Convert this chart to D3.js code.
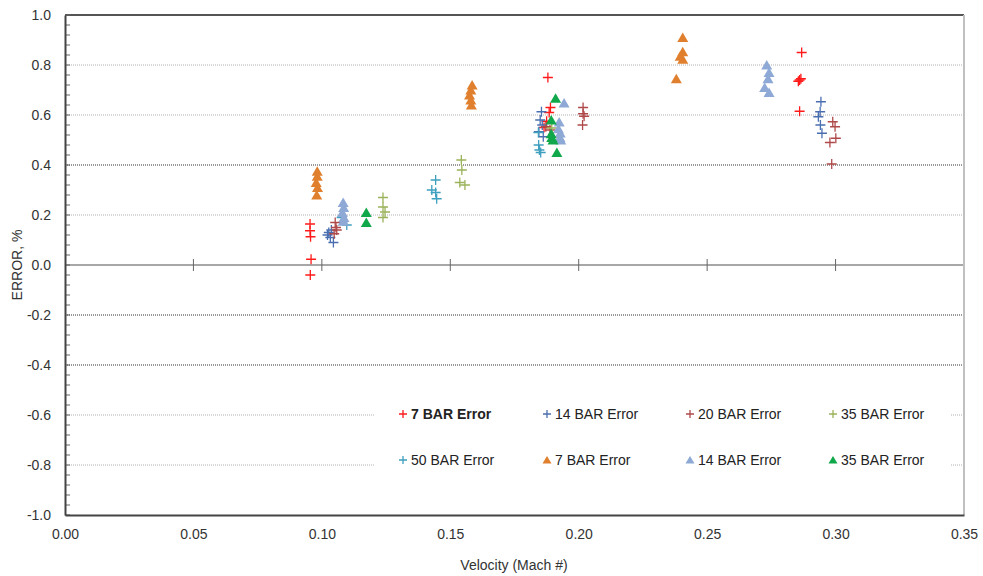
<!DOCTYPE html>
<html>
<head>
<meta charset="utf-8">
<script src="https://cdn.jsdelivr.net/npm/d3@7"></script>
<style>
body { margin: 0; background: #fff; }
text { font-family: "Liberation Sans", Arial, sans-serif; }
</style>
</head>
<body>
<svg width="983" height="576"></svg>
<script>
// series: [mach, error %]
var bar7 = [[0.0954,0.164],[0.0954,0.137],[0.0956,0.113],[0.0958,0.023],[0.0955,-0.04],
            [0.188,0.75],[0.189,0.63],[0.1885,0.61],[0.1875,0.575],[0.1865,0.55],
            [0.2868,0.85],[0.2855,0.735],[0.2865,0.745],[0.286,0.74],[0.286,0.615]];
var bar14 = [[0.1027,0.13],[0.1033,0.11],[0.1045,0.09],[0.1022,0.12],[0.1037,0.14],
             [0.1855,0.613],[0.185,0.58],[0.1858,0.56],[0.1845,0.533],[0.1862,0.513],
             [0.2943,0.653],[0.294,0.613],[0.2933,0.593],[0.2941,0.56],[0.2947,0.527]];
var bar20 = [[0.1052,0.17],[0.1055,0.15],[0.1048,0.125],[0.1058,0.14],
             [0.1872,0.553],[0.1888,0.54],
             [0.2017,0.63],[0.2017,0.605],[0.2021,0.595],[0.2015,0.56],
             [0.2989,0.573],[0.2998,0.553],[0.3001,0.507],[0.2978,0.49],[0.2985,0.404]];
var bar35 = [[0.1238,0.27],[0.1238,0.232],[0.1246,0.212],[0.1238,0.19],
             [0.1543,0.42],[0.1545,0.38],[0.1537,0.33],[0.1557,0.32],
             [0.1895,0.548],[0.19,0.513]];
var bar50 = [[0.1097,0.16],[0.1077,0.19],
             [0.1443,0.34],[0.1428,0.30],[0.1443,0.29],[0.1447,0.265],
             [0.1843,0.53],[0.1844,0.48],[0.1847,0.46],[0.1852,0.45]];
var tri7 = [[0.0982,0.375],[0.0982,0.355],[0.0978,0.33],[0.0983,0.31],[0.098,0.28],
            [0.1585,0.72],[0.158,0.70],[0.1575,0.68],[0.158,0.66],[0.1582,0.64],
            [0.2405,0.91],[0.2405,0.853],[0.2395,0.835],[0.2405,0.823],[0.238,0.745]];
var tri14 = [[0.1083,0.25],[0.1085,0.23],[0.108,0.21],[0.1086,0.19],[0.1083,0.175],
             [0.1943,0.648],[0.1924,0.572],[0.1921,0.545],[0.1928,0.528],[0.1927,0.51],[0.193,0.50],
             [0.2732,0.80],[0.2741,0.77],[0.2737,0.745],[0.2724,0.71],[0.2741,0.69]];
var tri35 = [[0.1173,0.21],[0.1173,0.17],
             [0.191,0.667],[0.1893,0.58],[0.1893,0.525],[0.1895,0.51],[0.19,0.50],[0.1915,0.45]];

var seriesNames = ["7 BAR Error","14 BAR Error","20 BAR Error","35 BAR Error",
                   "50 BAR Error","7 BAR Error","14 BAR Error","35 BAR Error"];
var seriesData = [bar7, bar14, bar20, bar35, bar50, tri7, tri14, tri35];
var seriesShape = ["plus","plus","plus","plus","plus","tri","tri","tri"];
var seriesColor = ["#ff1a1a","#4a6fb0","#b04a4a","#9bb35a","#3f9fbf","#e0802e","#8ea9d6","#10a84a"];

var yTicks = [1.0,0.8,0.6,0.4,0.2,0.0,-0.2,-0.4,-0.6,-0.8,-1.0];
var xTicks = [0,0.05,0.10,0.15,0.20,0.25,0.30,0.35];
var gridDark = [0.4,-0.2,-0.4];
var gridLight = [0.8,0.6,0.2,-0.6,-0.8];

var svg = d3.select("svg");
var margin = {top: 15, right: 19, bottom: 61, left: 65};
var width = 983 - margin.left - margin.right;
var height = 576 - margin.top - margin.bottom;

var g = svg.append("g").attr("transform","translate(" + margin.left + "," + margin.top + ")");

var xScale = d3.scaleLinear().domain([0, 0.35]).range([0, width]);
var yScale = d3.scaleLinear().domain([-1, 1]).range([height, 0]);

// gridlines
g.selectAll(".gl").data(gridLight).enter().append("line")
  .attr("x1", 0).attr("x2", width)
  .attr("y1", function(d){ return yScale(d); }).attr("y2", function(d){ return yScale(d); })
  .attr("stroke", "#b0b0b0").attr("stroke-width", 1).attr("stroke-dasharray", "1,1");
g.selectAll(".gd").data(gridDark).enter().append("line")
  .attr("x1", 0).attr("x2", width)
  .attr("y1", function(d){ return yScale(d); }).attr("y2", function(d){ return yScale(d); })
  .attr("stroke", "#333").attr("stroke-width", 1).attr("stroke-dasharray", "1,1");

// zero line with ticks
g.append("line").attr("x1", 0).attr("x2", width)
  .attr("y1", yScale(0)).attr("y2", yScale(0))
  .attr("stroke", "#8a8a8a").attr("stroke-width", 1.3);
g.selectAll(".zt").data(xTicks.slice(1, -1)).enter().append("line")
  .attr("x1", function(d){ return xScale(d); }).attr("x2", function(d){ return xScale(d); })
  .attr("y1", yScale(0) - 6).attr("y2", yScale(0) + 6)
  .attr("stroke", "#666").attr("stroke-width", 1);

// frame
g.append("line").attr("x1", 0).attr("x2", width).attr("y1", 0).attr("y2", 0)
  .attr("stroke", "#555").attr("stroke-width", 2);
g.append("line").attr("x1", width).attr("x2", width).attr("y1", 0).attr("y2", height)
  .attr("stroke", "#c0c0c0").attr("stroke-width", 2);

// y minor ticks (inside)
g.selectAll(".mt").data(d3.range(-1, 1.0001, 0.04)).enter().append("line")
  .attr("x1", 0).attr("x2", 5)
  .attr("y1", function(d){ return yScale(d); }).attr("y2", function(d){ return yScale(d); })
  .attr("stroke", "#666").attr("stroke-width", 1);

// axes
var yAxis = d3.axisLeft(yScale).tickValues(yTicks).tickSize(0).tickPadding(14)
  .tickFormat(function(d){ return d.toFixed(1); });
var ya = g.append("g").call(yAxis);
ya.select(".domain").attr("stroke", "#444").attr("stroke-width", 2);
ya.selectAll("text").attr("font-size", "14px").attr("fill", "#333")
  .style("font-family", "'Liberation Sans', Arial, sans-serif");

var xAxis = d3.axisBottom(xScale).tickValues(xTicks).tickSize(0).tickPadding(14)
  .tickFormat(function(d){ return d.toFixed(2); });
var xa = g.append("g").attr("transform", "translate(0," + height + ")").call(xAxis);
xa.select(".domain").attr("stroke", "#444").attr("stroke-width", 2);
xa.selectAll("text").attr("font-size", "14px").attr("fill", "#333")
  .style("font-family", "'Liberation Sans', Arial, sans-serif");

// markers
function drawMarker(sel, shape, color, s) {
  if (shape === "plus") {
    sel.append("path").attr("d", "M" + (-s) + ",0H" + s + "M0," + (-s) + "V" + s)
      .attr("stroke", color).attr("stroke-width", 1.3).attr("fill", "none");
  } else {
    sel.append("path").attr("d", "M0," + (-s) + "L" + (s + 0.5) + "," + (s - 0.5) + "L" + (-s - 0.5) + "," + (s - 0.5) + "Z")
      .attr("fill", color);
  }
}

seriesData.forEach(function(data, i) {
  g.append("g").selectAll("g").data(data).enter().append("g")
    .attr("transform", function(d){ return "translate(" + xScale(d[0]) + "," + yScale(d[1]) + ")"; })
    .each(function() { drawMarker(d3.select(this), seriesShape[i], seriesColor[i], 5); });
});

// legend
var legend = svg.append("g");
legend.append("rect").attr("x", 375).attr("y", 392).attr("width", 576).attr("height", 90).attr("fill", "#fff");
var legCols = [403, 547, 690, 833];
var legRows = [414, 460];
seriesNames.forEach(function(name, i) {
  var lx = legCols[i % 4], ly = legRows[Math.floor(i / 4)];
  var item = legend.append("g").attr("transform", "translate(" + lx + "," + ly + ")");
  drawMarker(item, seriesShape[i], seriesColor[i], 4);
  item.append("text").attr("x", 8).attr("y", 5).attr("font-size", "14px").attr("fill", "#222")
    .attr("font-weight", i === 0 ? "bold" : "normal").text(name);
});

// axis titles
svg.append("text")
  .attr("transform", "translate(514,570)")
  .style("text-anchor", "middle").attr("font-size", "14px").attr("fill", "#333")
  .text("Velocity  (Mach #)");
svg.append("text")
  .attr("transform", "translate(22,265) rotate(-90)")
  .style("text-anchor", "middle").attr("font-size", "14px").attr("fill", "#333")
  .text("ERROR, %");
</script>
</body>
</html>
